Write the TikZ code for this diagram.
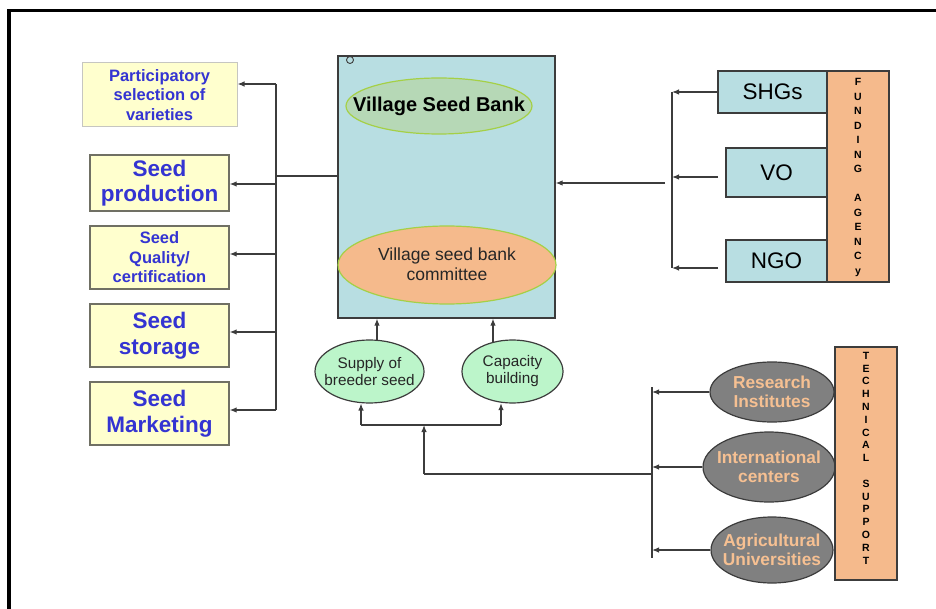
\documentclass[tikz,border=0pt]{standalone}
\usepackage{fontspec}
\setmainfont{Liberation Sans}
\usetikzlibrary{shapes.geometric,arrows.meta}
\definecolor{yfill}{RGB}{255,255,206}
\definecolor{yline}{RGB}{112,112,100}
\definecolor{bluetxt}{RGB}{52,52,210}
\definecolor{vsbfill}{RGB}{184,222,226}
\definecolor{gfill}{RGB}{182,216,182}
\definecolor{gline}{RGB}{165,208,70}
\definecolor{ofill}{RGB}{245,186,140}
\definecolor{lgfill}{RGB}{188,245,202}
\definecolor{grayfill}{RGB}{128,128,128}
\definecolor{graytxt}{RGB}{246,192,146}
\definecolor{conn}{RGB}{60,60,60}
\newcommand\myfs[2]{\fontsize{#1}{#2}\selectfont}
\begin{document}
\begin{tikzpicture}[x=1pt,y=-1pt,
  ybox/.style={draw=yline, fill=yfill, line width=1.3pt, inner sep=0pt, align=center,
     text=bluetxt, font=\bfseries},
  bbox/.style={draw=conn, fill=vsbfill, line width=1.2pt, inner sep=0pt, align=center},
  obox/.style={draw=conn, fill=ofill, line width=1.2pt, inner sep=0pt, align=center},
  ell/.style={ellipse, line width=1.2pt, inner sep=0pt},
  gell/.style={ell, draw=conn, fill=grayfill},
  gtxt/.style={align=center, inner sep=0pt, text=graytxt, font=\bfseries\myfs{17.3}{19.5}},
  lell/.style={ell, draw=conn, fill=lgfill},
  ltxt/.style={align=center, inner sep=0pt, text={black!85}, font=\myfs{15.3}{17}},
  vtxt/.style={align=center, inner sep=0pt, font=\bfseries\myfs{10.5}{#1}},
  wire/.style={draw=conn, line width=1.2pt},
  arr/.style={wire, -{Latex[length=7pt,width=5.5pt]}}]
\useasboundingbox (0,0) rectangle (936,609);
% frame
\draw[line width=3.8pt, line join=miter] (9,611) -- (9,10.5) -- (938,10.5);

% left boxes
\node[ybox, draw=yline!40, line width=1pt, minimum width=155pt, minimum height=64pt,
      font=\bfseries\myfs{16.5}{19.5}] (part) at (159.5,95) {Participatory\\selection of\\ varieties};
\node[ybox, minimum width=139pt, minimum height=56pt, font=\bfseries\myfs{22.5}{25.5}]
      (prod) at (159.5,183) {Seed\\production};
\node[ybox, minimum width=139pt, minimum height=63pt, font=\bfseries\myfs{16.5}{19.5}]
      (qual) at (159.5,257.5) {Seed\\Quality/\\certification};
\node[ybox, minimum width=139pt, minimum height=63pt, font=\bfseries\myfs{22.5}{25.5}]
      (stor) at (159.5,335.5) {Seed\\storage};
\node[ybox, minimum width=139pt, minimum height=63pt, font=\bfseries\myfs{22.5}{25.5}]
      (mark) at (159.5,413.5) {Seed\\Marketing};

% village seed bank
\node[bbox, minimum width=217pt, minimum height=262pt] (vsb) at (446.5,187) {};
\draw[conn, line width=0.9pt] (350,60) circle (3.5pt);
\node[ell, draw=gline, fill=gfill, minimum width=186pt, minimum height=56pt] (vsbt) at (439,106) {};
\node[inner sep=0pt, font=\bfseries\myfs{20}{22}] (vsbl) at (vsbt) {Village Seed Bank};
\node[ell, draw=gline, fill=ofill, minimum width=218pt, minimum height=78pt] (comm) at (447,265) {};
\node[align=center, inner sep=0pt, font=\myfs{17.5}{20}, text={black!85}] (comml) at (447,264)
      {Village seed bank\\committee};

% supply / capacity
\node[lell, minimum width=109pt, minimum height=63pt] (sup) at (369.5,371.5) {};
\node[ltxt] (supl) at (sup) {Supply of\\breeder seed};
\node[lell, minimum width=101pt, minimum height=63pt] (cap) at (512.5,371.5) {};
\node[ltxt] (capl) at (cap) {Capacity\\building};

% funding side
\node[bbox, minimum width=109pt, minimum height=42pt, font=\myfs{22.5}{24}] (shg) at (772.5,92) {SHGs};
\node[bbox, minimum width=101pt, minimum height=49pt, font=\myfs{22.5}{24}] (vo) at (776.5,172.5) {VO};
\node[bbox, minimum width=101pt, minimum height=42pt, font=\myfs{22.5}{24}] (ngo) at (776.5,261) {NGO};
\node[obox, minimum width=62pt, minimum height=211pt] (fund) at (858,176.5) {};
\node[vtxt=14.5] (fundt) at (858,177.5)
  {F\\U\\N\\D\\I\\N\\G\\[14.5pt]A\\G\\E\\N\\C\\y};

% technical side
\node[gell, minimum width=124pt, minimum height=60pt] (res) at (772,392) {};
\node[gtxt] (resl) at (res) {Research\\Institutes};
\node[gell, minimum width=132pt, minimum height=70pt] (intl) at (769,467) {};
\node[gtxt] (intll) at (intl) {International\\centers};
\node[gell, minimum width=122pt, minimum height=66pt] (agri) at (772,550) {};
\node[gtxt] (agril) at (agri) {Agricultural\\Universities};
\node[obox, minimum width=62pt, minimum height=233pt] (tech) at (866,463.5) {};
\node[vtxt=12.8] (techt) at (866,458)
  {T\\E\\C\\H\\N\\I\\C\\A\\L\\[12.8pt]S\\U\\P\\P\\O\\R\\T};

% left tree
\coordinate (l1) at (276,84);
\coordinate (lm) at (276,176);
\coordinate (l2) at (276,184);
\coordinate (l3) at (276,254);
\coordinate (l4) at (276,332);
\coordinate (l5) at (276,410);
\draw[wire] (l1) -- (l5);
\draw[wire] (lm) -- (lm -| vsb.west);
\draw[arr] (l1) -- (l1 -| part.east);
\draw[arr] (l2) -- (l2 -| prod.east);
\draw[arr] (l3) -- (l3 -| qual.east);
\draw[arr] (l4) -- (l4 -| stor.east);
\draw[arr] (l5) -- (l5 -| mark.east);

% right (funding) tree
\coordinate (r1) at (672,92);
\coordinate (r2) at (672,177);
\coordinate (r3) at (672,268);
\coordinate (vofree) at (718,177);
\coordinate (ngofree) at (718,268);
\coordinate (rin) at (665,183);
\draw[wire] (r1) -- (r3);
\draw[arr] (shg.west) -- (r1);
\draw[arr] (vofree) -- (r2);
\draw[arr] (ngofree) -- (r3);
\draw[arr] (rin) -- (rin -| vsb.east);

% up into village seed bank
\coordinate (s1) at (377,341);
\coordinate (c1) at (493,342);
\draw[arr] (s1) -- (s1 |- vsb.south);
\draw[arr] (c1) -- (c1 |- vsb.south);

% lower tree
\coordinate (b1) at (361,425);
\coordinate (b2) at (501,425);
\coordinate (bm) at (424,425);
\coordinate (bc) at (424,474);
\coordinate (t0) at (652,387);
\coordinate (t4) at (652,558);
\coordinate (tj) at (652,474);
\draw[wire] (b1) -- (b2);
\draw[arr] (b1) -- (361,403.5);
\draw[arr] (b2) -- (501,403.2);
\draw[arr] (bc) -- (bm);
\draw[wire] (bc) -- (tj);
\draw[wire] (t0) -- (t4);
\draw[arr] (res.west) -- (res.west -| t0);
\draw[arr] (intl.west) -- (intl.west -| t0);
\draw[arr] (agri.west) -- (agri.west -| t0);
\end{tikzpicture}
\end{document}
